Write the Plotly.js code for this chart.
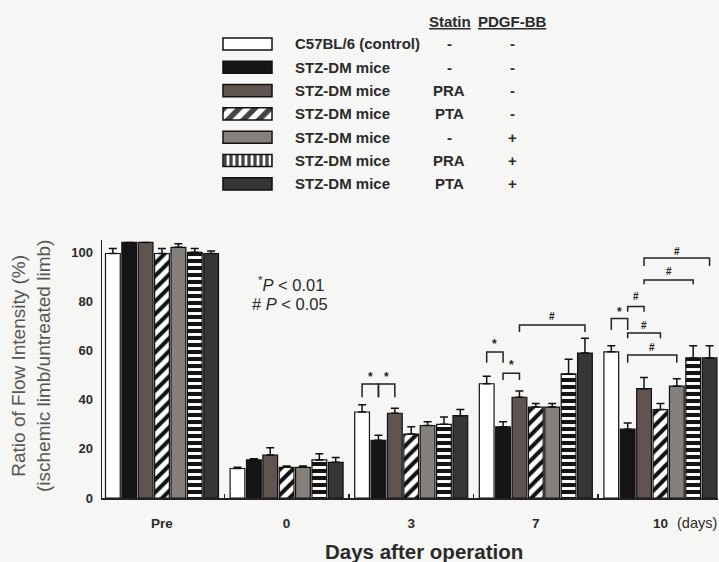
<!DOCTYPE html>
<html>
<head>
<meta charset="utf-8">
<script src="https://cdn.plot.ly/plotly-3.0.1.min.js"></script>
<style>html,body{margin:0;padding:0;background:#f6f6f4;}</style>
</head>
<body>
<div id="chart" style="width:719px;height:562px;"></div>
<script>
// ---------- data ----------
const days = ["Pre", "0", "3", "7", "10"];
const seriesNames = ["C57BL/6 (control)", "STZ-DM mice", "STZ-DM mice", "STZ-DM mice", "STZ-DM mice", "STZ-DM mice", "STZ-DM mice"];
const statinCol = ["-", "-", "PRA", "PTA", "-", "PRA", "PTA"];
const pdgfCol = ["-", "-", "-", "-", "+", "+", "+"];

const controlVals = [99.5, 12, 35, 46.5, 59.5];
const controlErr  = [2, 0.5, 3, 3, 2.5];
const stzVals     = [104, 15.5, 23.5, 29, 28];
const stzErr      = [0, 0.5, 2, 2, 2.5];
const praVals     = [104, 17.5, 34.5, 41, 44.5];
const praErr      = [0, 3, 2, 2.5, 4.5];
const ptaVals     = [99.5, 12.5, 26, 37, 36];
const ptaErr      = [2, 0.5, 3, 1.5, 2.5];
const pdgfVals    = [102, 12.5, 29.5, 37, 45.5];
const pdgfErr     = [1.5, 0.5, 1.5, 1.5, 3];
const pdgfPraVals = [100, 15.5, 30, 50.5, 57];
const pdgfPraErr  = [1.5, 2.5, 3, 6, 5];
const pdgfPtaVals = [99.5, 14.5, 33.5, 59, 57];
const pdgfPtaErr  = [1, 2, 2.5, 6, 5];

// significance brackets: [group, fromBar, toBar, topValue, legValue, label, labelValue]
const brackets = [
  [2, 0, 1, 46.4, 41, "*", 49.3],
  [2, 1, 2, 46.4, 41, "*", 49.3],
  [3, 0, 1, 59.4, 55, "*", 62.8],
  [3, 1, 2, 50.8, 48, "*", 54],
  [3, 2, 6, 70.4, 67.6, "#", 73.7],
  [4, 0, 1, 73.1, 68.4, "*", 75.8],
  [4, 1, 2, 77.9, 75.8, "#", 81.9],
  [4, 1, 3, 67.2, 65, "#", 70.4],
  [4, 1, 4, 58.2, 55, "#", 61.2],
  [4, 2, 5, 88.7, 87, "#", 92],
  [4, 2, 6, 97.7, 94.4, "#", 100.3]
];

// ---------- styles ----------
const W = 719, H = 562;
const px = x => x / W;
const py = y => 1 - y / H;

const values = [controlVals, stzVals, praVals, ptaVals, pdgfVals, pdgfPraVals, pdgfPtaVals];
const errors = [controlErr, stzErr, praErr, ptaErr, pdgfErr, pdgfPraErr, pdgfPtaErr];
const styles = [
  {color: "#ffffff", pattern: {shape: ""}},
  {color: "#151515", pattern: {shape: ""}},
  {color: "#5f5450", pattern: {shape: ""}},
  {color: "#ffffff", pattern: {shape: "/", fgcolor: "#111111", fgopacity: 1, size: 9, solidity: 0.45, fillmode: "overlay"}},
  {color: "#85807c", pattern: {shape: ""}},
  {color: "#151515", pattern: {shape: "-", fgcolor: "#ffffff", fgopacity: 1, size: 7, solidity: 0.42, fillmode: "overlay"}},
  {color: "#363636", pattern: {shape: ""}}
];
const legendShapes = ["", "", "", "/", "", "|", ""];
const legendFg = ["#ffffff", "#151515", "#5f5450", "#111111", "#85807c", "#111111", "#363636"];
const legendColors = ["#ffffff", "#151515", "#5f5450", "#ffffff", "#85807c", "#ffffff", "#363636"];
const legendSizes = [8, 8, 8, 11, 8, 6, 8];
const legendSolid = [0.3, 0.3, 0.3, 0.5, 0.3, 0.55, 0.3];

// bar geometry within each day group
const groupWidth = 0.92;
const slot = groupWidth / 7;
const barWidth = slot * 0.9;
const barOffset = k => -groupWidth / 2 + k * slot + (slot - barWidth) / 2;

const xs = days.map((d, i) => i);
const traces = values.map((v, k) => ({
  type: "bar", x: xs, y: v, offset: barOffset(k), width: barWidth,
  marker: {color: styles[k].color, line: {color: "#111", width: 1.2}, pattern: styles[k].pattern},
  error_y: {type: "data", symmetric: false, array: errors[k], arrayminus: v.map(() => 0),
            color: "#111", thickness: 1.5, width: 4},
  hoverinfo: "y"
}));

// legend swatches as horizontal bars on a small hidden subplot
const legY = seriesNames.map((n, i) => i);
const legX = seriesNames.map(() => 1);
traces.push({
  type: "bar", orientation: "h", x: legX, y: legY, xaxis: "x2", yaxis: "y2",
  width: 0.52, offset: -0.26,
  marker: {
    color: legendColors,
    line: {color: "#111", width: 1.5},
    pattern: {shape: legendShapes, fgcolor: legendFg, fgopacity: 1, size: legendSizes, solidity: legendSolid, fillmode: "overlay"}
  },
  hoverinfo: "skip"
});

const barX = (g, b) => g + barOffset(b) + barWidth / 2;

const shapes = brackets.map(b => {
  const x0 = barX(b[0], b[1]), x1 = barX(b[0], b[2]);
  return {type: "path", xref: "x", yref: "y",
          path: `M ${x0},${b[4]} L ${x0},${b[3]} L ${x1},${b[3]} L ${x1},${b[4]}`,
          line: {color: "#222", width: 1.5}};
});

const txt = "#2a2a2a";
const FAM = "Liberation Sans, Arial, sans-serif";
const bold = (s, c) => ({family: FAM, size: s, color: c || txt, weight: "bold"});

const annotations = [];
const ann = (x, y, text, font, extra) => annotations.push(Object.assign(
  {xref: "paper", yref: "paper", x: px(x), y: py(y), text: text, showarrow: false, font: font,
   xanchor: "center", yanchor: "middle"}, extra || {}));

brackets.forEach(b => {
  const xc = (barX(b[0], b[1]) + barX(b[0], b[2])) / 2;
  annotations.push({xref: "x", yref: "y", x: xc, y: b[6], text: b[5], showarrow: false,
                    font: bold(b[5] === "*" ? 12 : 10, "#222"), xanchor: "center", yanchor: "middle"});
});

// legend text
const rowY = i => 44 + i * 23.3;
ann(450, 22, "<u>Statin</u>", bold(15));
ann(512, 22, "<u>PDGF-BB</u>", bold(15));
seriesNames.forEach((n, i) => {
  ann(293, rowY(i), n, bold(15), {xanchor: "left"});
  ann(449, rowY(i), statinCol[i], bold(15));
  ann(512, rowY(i), pdgfCol[i], bold(15));
});

// p-value key
ann(291, 284, "<sup>*</sup><i>P</i> < 0.01", {family: FAM, size: 16.5, color: txt});
ann(290, 304, "# <i>P</i> < 0.05", {family: FAM, size: 16.5, color: txt});
// units
ann(697, 523, "(days)", {family: FAM, size: 14.5, color: txt});
// axis titles
ann(424, 551, "Days after operation", bold(20.5));
ann(31, 366, "Ratio of Flow Intensity (%)<br>(ischemic limb/untreated limb)",
    {family: FAM, size: 19, color: "#555"}, {textangle: -90});

const layout = {
  width: W, height: H,
  margin: {l: 0, r: 0, t: 0, b: 0},
  paper_bgcolor: "#f6f6f4",
  plot_bgcolor: "#f6f6f4",
  showlegend: false,
  barmode: "group",
  xaxis: {
    domain: [102 / W, 718 / W],
    range: [-0.4815, 4.462],
    anchor: "y",
    showline: true, linecolor: "#222", linewidth: 2,
    tickvals: xs, ticktext: days,
    ticks: "outside", ticklen: 12, tickcolor: "rgba(0,0,0,0)",
    tickfont: bold(13.5),
    showgrid: false, zeroline: false,
    minor: {tickvals: [0.5, 1.5, 2.5, 3.5], ticks: "inside", ticklen: 4, tickwidth: 1.5, tickcolor: "#222", showgrid: false}
  },
  yaxis: {
    domain: [64 / H, 322 / H],
    range: [0, 105],
    anchor: "x",
    showline: true, linecolor: "#222", linewidth: 1.5,
    tickvals: [0, 20, 40, 60, 80, 100],
    ticks: "outside", ticklen: 5, tickcolor: "rgba(0,0,0,0)",
    tickfont: bold(13),
    showgrid: false, zeroline: false
  },
  xaxis2: {domain: [222 / W, 273 / W], range: [-0.02, 1.02], anchor: "y2", visible: false, fixedrange: true},
  yaxis2: {domain: [py(195.5), py(32.3)], range: [6.5, -0.5], anchor: "x2", visible: false, fixedrange: true},
  shapes: shapes,
  annotations: annotations
};

Plotly.newPlot("chart", traces, layout, {displayModeBar: false, staticPlot: true});
</script>
</body>
</html>
